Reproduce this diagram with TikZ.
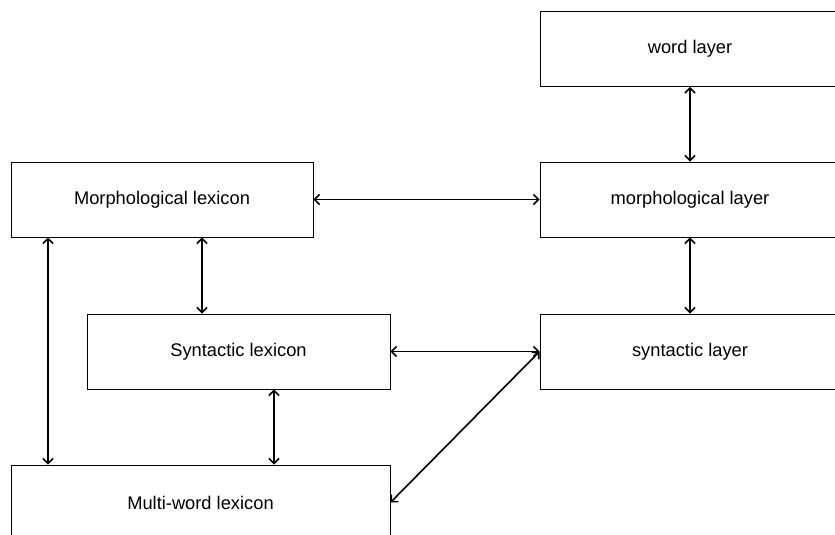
\documentclass[tikz,border=0pt]{standalone}
\usepackage{fontspec}
\setmainfont{Liberation Sans}
\usetikzlibrary{arrows.meta}
\begin{document}
\begin{tikzpicture}[x=1pt,y=-1pt,
  box/.style={draw=black, line width=0.9pt, minimum width=302pt, minimum height=75pt, inner sep=0pt, font=\fontsize{18.3}{21}\selectfont},
  link/.style={line width=1.6pt, {Straight Barb[length=5pt,width=10pt]}-{Straight Barb[length=5pt,width=10pt]}}]
\useasboundingbox (0,0) rectangle (835,535);
\clip (0,0) rectangle (835,535);
\node[box, minimum width=300pt] (wl) at (690,49) {word layer};
\node[box, minimum width=300pt] (ml) at (690,199.5) {morphological layer};
\node[box, minimum width=300pt] (sl) at (690,351.5) {syntactic layer};
\node[box] (mlex) at (162,199.5) {Morphological lexicon};
\node[box, minimum width=303pt] (slex) at (238.5,351.5) {Syntactic lexicon};
\node[box, minimum width=379pt] (mw) at (200.5,502.5) {Multi-word lexicon};
\draw[link] (wl.south) -- (ml.north);
\draw[link] (ml.south) -- (sl.north);
\draw[link] (mlex.east) -- (ml.west);
\draw[link] (mlex.south -| 202,0) -- (slex.north -| 202,0);
\draw[link] (mlex.south -| 48,0) -- (mw.north -| 48,0);
\draw[link] (slex.south -| 274,0) -- (mw.north -| 274,0);
\draw[link] (slex.east) -- (sl.west);
\draw[link] (sl.west) -- (mw.east);
\end{tikzpicture}
\end{document}
